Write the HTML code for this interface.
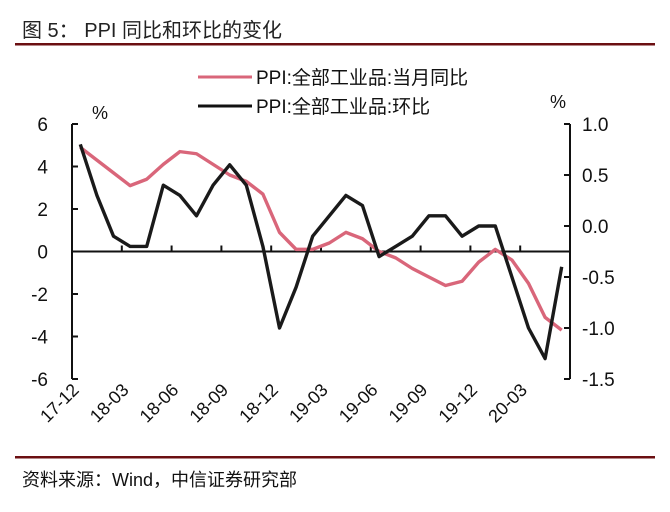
<!DOCTYPE html>
<html><head><meta charset="utf-8"><style>
body{margin:0;background:#fff;width:670px;height:507px;overflow:hidden;font-family:"Liberation Sans","Noto Sans CJK SC",sans-serif}
</style></head><body>
<svg width="670" height="507" viewBox="0 0 670 507" font-family="Liberation Sans, Noto Sans CJK SC, sans-serif">
<text x="22" y="37" font-size="20" fill="#222">图 5：  PPI 同比和环比的变化</text>
<rect x="15" y="43" width="640" height="2.5" fill="#6b0f12"/>
<g>
<line x1="198" y1="77" x2="252" y2="77" stroke="#d9667a" stroke-width="3"/>
<text x="256" y="84" font-size="19" fill="#111">PPI:全部工业品:当月同比</text>
<line x1="198" y1="106" x2="252" y2="106" stroke="#111" stroke-width="3"/>
<text x="256" y="113" font-size="19" fill="#111">PPI:全部工业品:环比</text>
</g>
<text x="92" y="119" font-size="18" fill="#111">%</text>
<text x="550" y="108" font-size="18" fill="#111">%</text>
<g id="axes"></g>
<g id="series"></g>
<rect x="15" y="456" width="640" height="2.5" fill="#6b0f12"/>
<text x="22" y="486" font-size="18" fill="#111">资料来源：Wind，中信证券研究部</text>
</svg>
<script>
const categories=["17-12","18-01","18-02","18-03","18-04","18-05","18-06","18-07","18-08","18-09","18-10","18-11","18-12","19-01","19-02","19-03","19-04","19-05","19-06","19-07","19-08","19-09","19-10","19-11","19-12","20-01","20-02","20-03","20-04","20-05"];
const yoyValues=[4.9,4.3,3.7,3.1,3.4,4.1,4.7,4.6,4.1,3.6,3.3,2.7,0.9,0.1,0.1,0.4,0.9,0.6,0.0,-0.3,-0.8,-1.2,-1.6,-1.4,-0.5,0.1,-0.4,-1.5,-3.1,-3.7];
const momValues=[0.8,0.3,-0.1,-0.2,-0.2,0.4,0.3,0.1,0.4,0.6,0.4,-0.2,-1.0,-0.6,-0.1,0.1,0.3,0.2,-0.3,-0.2,-0.1,0.1,0.1,-0.1,0.0,0.0,-0.5,-1.0,-1.3,-0.4];
const leftTicks=[6,4,2,0,-2,-4,-6];
const rightTicks=["1.0","0.5","0.0","-0.5","-1.0","-1.5"];
const xLabelEvery=3;
const NS="http://www.w3.org/2000/svg";
const X0=72,X1=570,YT=124,YB=379;
const band=(X1-X0)/categories.length;
const xPos=i=>X0+band*(i+0.5);
const yL=v=>YT+(6-v)/12*(YB-YT);
const yR=v=>YT+(1-v)/2.5*(YB-YT);
function mk(tag,attrs,parent){const e=document.createElementNS(NS,tag);for(const k in attrs)e.setAttribute(k,attrs[k]);parent.appendChild(e);return e;}
const ax=document.getElementById('axes');
let e=mk('line',{x1:X0,y1:YT,x2:X0,y2:YB,stroke:'#111','stroke-width':2},ax);


e=mk('line',{x1:X1,y1:YT,x2:X1,y2:YB,stroke:'#111','stroke-width':2},ax);


e=mk('line',{x1:X0,y1:yL(0),x2:X1,y2:yL(0),stroke:'#111','stroke-width':2},ax);


leftTicks.forEach(v=>{
 const y=yL(v);
 let t=mk('line',{x1:X0,y1:y,x2:X0+6,y2:y,stroke:'#111','stroke-width':2},ax);
 
 
 let l=mk('text',{x:X0-24,y:y+7,'font-size':19,'text-anchor':'end',fill:'#111'},ax);
 l.textContent=String(v);
 
 
});
rightTicks.forEach(s=>{
 const y=yR(parseFloat(s));
 let t=mk('line',{x1:X1-6,y1:y,x2:X1,y2:y,stroke:'#111','stroke-width':2},ax);
 
 
 let l=mk('text',{x:X1+12,y:y+7,'font-size':19,fill:'#111'},ax);
 l.textContent=s;
 
 
});
categories.forEach((c,i)=>{
 if(i%xLabelEvery!==0)return;
 const x=X0+band*i;
 if(i>0){let t=mk('line',{x1:x,y1:yL(0),x2:x,y2:yL(0)-6,stroke:'#111','stroke-width':2},ax);
 
 }
 let l=mk('text',{x:x+8,y:YB+12,'font-size':18,'text-anchor':'end',fill:'#111',transform:`rotate(-45 ${x+8} ${YB+12})`},ax);
 l.textContent=c;
 
 
});
const sg=document.getElementById('series');
let p=mk('polyline',{points:yoyValues.map((v,i)=>xPos(i)+','+yL(v)).join(' '),fill:'none',stroke:'#d9667a','stroke-width':3.4,'stroke-linejoin':'round'},sg);


p=mk('polyline',{points:momValues.map((v,i)=>xPos(i)+','+yR(v)).join(' '),fill:'none',stroke:'#1a1a1a','stroke-width':3.4,'stroke-linejoin':'round'},sg);


</script>
</body></html>
